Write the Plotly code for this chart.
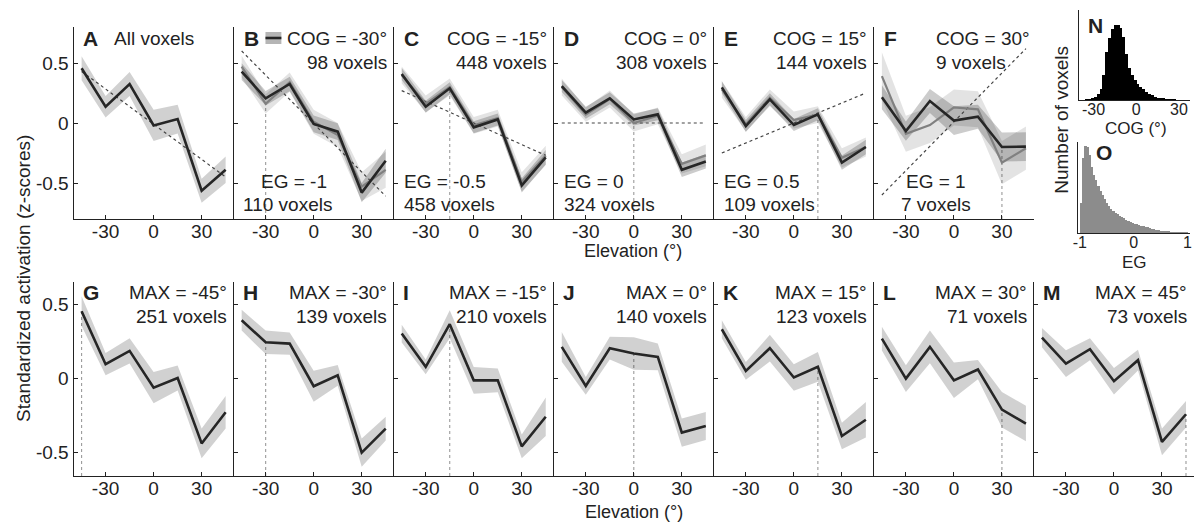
import plotly.graph_objects as go

# ---------------- data ----------------
elev = [-45, -30, -15, 0, 15, 30, 45]
elev_ticks = [-30, 0, 30]
elev_ticktext = ["-30", "0", "30"]
z_ticks = [-0.5, 0, 0.5]
z_ticktext = ["-0.5", "0", "0.5"]

# Panel A: all voxels
all_mean = [0.456, 0.136, 0.325, -0.02, 0.033, -0.564, -0.39]
all_err = [0.10, 0.09, 0.10, 0.13, 0.12, 0.10, 0.11]
all_fit = [0.43, -0.45]          # linear fit at -45 and 45

# Panels B-F: COG groups and EG groups
cog_vals = [-30, -15, 0, 15, 30]
cog_labels = ["COG = -30°", "COG = -15°", "COG = 0°", "COG = 15°", "COG = 30°"]
cog_counts = [98, 448, 308, 144, 9]
eg_vals = [-1, -0.5, 0, 0.5, 1]
eg_labels = ["EG = -1", "EG = -0.5", "EG = 0", "EG = 0.5", "EG = 1"]
eg_counts = [110, 458, 324, 109, 7]
cog_mean = [
    [0.428, 0.206, 0.325, -0.008, -0.072, -0.58, -0.314],
    [0.408, 0.136, 0.289, -0.036, 0.03, -0.52, -0.286],
    [0.308, 0.086, 0.206, 0.03, 0.072, -0.39, -0.32],
    [0.297, -0.025, 0.197, -0.017, 0.072, -0.33, -0.20],
    [0.214, -0.067, 0.183, 0.02, 0.053, -0.20, -0.197],
]
cog_err = [
    [0.07, 0.06, 0.06, 0.07, 0.07, 0.08, 0.10],
    [0.05, 0.05, 0.05, 0.05, 0.05, 0.06, 0.06],
    [0.05, 0.05, 0.05, 0.05, 0.05, 0.06, 0.06],
    [0.05, 0.05, 0.05, 0.05, 0.05, 0.06, 0.06],
    [0.10, 0.08, 0.10, 0.12, 0.10, 0.12, 0.12],
]
eg_mean = [
    [0.47, 0.16, 0.34, 0.01, -0.10, -0.53, -0.39],
    [0.40, 0.16, 0.30, -0.02, 0.04, -0.49, -0.27],
    [0.30, 0.07, 0.20, 0.00, 0.06, -0.34, -0.27],
    [0.28, -0.01, 0.21, 0.025, 0.07, -0.29, -0.20],
    [0.39, -0.09, -0.017, 0.13, 0.114, -0.33, -0.21],
]
eg_err = [
    [0.09, 0.08, 0.08, 0.10, 0.10, 0.12, 0.15],
    [0.07, 0.07, 0.07, 0.07, 0.07, 0.08, 0.08],
    [0.07, 0.06, 0.07, 0.07, 0.07, 0.08, 0.09],
    [0.07, 0.06, 0.07, 0.07, 0.07, 0.08, 0.08],
    [0.20, 0.15, 0.15, 0.15, 0.15, 0.18, 0.18],
]
eg_template = [[0.60, -0.61], [0.27, -0.27], [0.0, 0.0], [-0.25, 0.25], [-0.60, 0.62]]

# Panels G-M: MAX groups
max_vals = [-45, -30, -15, 0, 15, 30, 45]
max_labels = ["MAX = -45°", "MAX = -30°", "MAX = -15°", "MAX = 0°", "MAX = 15°", "MAX = 30°", "MAX = 45°"]
max_counts = [251, 139, 210, 140, 123, 71, 73]
max_mean = [
    [0.453, 0.095, 0.185, -0.063, 0.002, -0.44, -0.23],
    [0.392, 0.243, 0.234, -0.054, 0.02, -0.502, -0.34],
    [0.302, 0.077, 0.365, -0.014, -0.014, -0.46, -0.26],
    [0.212, -0.052, 0.203, 0.167, 0.144, -0.367, -0.322],
    [0.331, 0.05, 0.203, 0.005, 0.077, -0.39, -0.28],
    [0.268, -0.002, 0.212, -0.014, 0.059, -0.212, -0.306],
    [0.275, 0.099, 0.196, -0.02, 0.122, -0.43, -0.243],
]
max_err = [
    [0.10, 0.075, 0.085, 0.105, 0.085, 0.10, 0.11],
    [0.07, 0.08, 0.075, 0.105, 0.07, 0.095, 0.08],
    [0.06, 0.05, 0.095, 0.09, 0.08, 0.08, 0.13],
    [0.10, 0.06, 0.077, 0.11, 0.09, 0.095, 0.095],
    [0.06, 0.06, 0.09, 0.09, 0.10, 0.09, 0.12],
    [0.08, 0.09, 0.11, 0.12, 0.065, 0.12, 0.12],
    [0.065, 0.09, 0.075, 0.09, 0.07, 0.09, 0.09],
]

# Histogram N: COG distribution
cog_bins = [-35, -33, -31, -29, -27, -25, -23, -21, -19, -17, -15, -13, -11, -9, -7, -5, -3, -1,
            1, 3, 5, 7, 9, 11, 13, 15, 17, 19, 21, 23, 25, 27]
cog_hist = [3, 8, 15, 30, 60, 110, 250, 480, 620, 710, 750, 750, 720, 630, 460, 320, 250, 200,
            165, 135, 110, 85, 65, 50, 33, 25, 18, 11, 7, 5, 3, 2]
# Histogram O: EG distribution
eg_bins = [-0.98, -0.94, -0.90, -0.86, -0.82, -0.78, -0.74, -0.70, -0.66, -0.62, -0.58, -0.54,
           -0.50, -0.46, -0.42, -0.38, -0.34, -0.30, -0.26, -0.22, -0.18, -0.14, -0.10, -0.06,
           -0.02, 0.02, 0.06, 0.10, 0.14, 0.18, 0.22, 0.26, 0.30, 0.34, 0.38, 0.42, 0.46, 0.50,
           0.54, 0.58, 0.62, 0.66, 0.70, 0.74, 0.78, 0.82, 0.86, 0.90, 0.94, 0.98]
eg_hist = [300, 750, 870, 860, 780, 660, 580, 530, 470, 420, 380, 340, 300, 270, 240, 220, 200,
           185, 170, 155, 145, 130, 120, 110, 100, 92, 85, 78, 72, 66, 60, 55, 50, 44, 38, 32,
           27, 22, 18, 15, 12, 10, 8, 6, 5, 4, 3, 2, 1, 0.5]

# ---------------- styling / layout ----------------
FONT = "Liberation Sans, Arial, sans-serif"
W, H = 1196, 525
INK = "#222222"
DARK_LINE = "#262626"
GRAY_LINE = "#808080"
COG_BAND = "rgba(0,0,0,0.20)"
EG_BAND = "rgba(0,0,0,0.11)"
SINGLE_BAND = "rgba(0,0,0,0.18)"


def fx(x):
    return min(1.0, max(0.0, x / W))


def fy(y):
    return min(1.0, max(0.0, 1 - y / H))


fig = go.Figure()
layout = dict(
    width=W, height=H, margin=dict(l=0, r=0, t=0, b=0),
    paper_bgcolor="white", plot_bgcolor="white", showlegend=False,
    font=dict(family=FONT, color=INK, size=19), bargap=0,
    annotations=[], shapes=[],
)

PW = 161.0
TOP = (27, 219)
BOT = (282, 476)


def add_axes(n, xl, xr, yt, yb, xrange, yrange, xtv, xtt, ytv, ytt, showy, fs=19, yticks=True,
             xstandoff=-5):
    k = "" if n == 1 else str(n)
    layout["xaxis" + k] = dict(
        domain=[fx(xl), fx(xr)], anchor="y" + k, range=xrange, tickvals=xtv, ticktext=xtt,
        ticks="inside", ticklen=4, tickcolor=INK, showline=True, linecolor=INK, linewidth=1.3,
        showgrid=False, zeroline=False, tickfont=dict(size=fs, color=INK, family=FONT),
        ticklabelstandoff=xstandoff, fixedrange=True)
    layout["yaxis" + k] = dict(
        domain=[fy(yb), fy(yt)], anchor="x" + k, range=yrange, tickvals=ytv, ticktext=ytt,
        showticklabels=showy, ticks="inside" if yticks else "", ticklen=4, tickcolor=INK,
        showline=True, linecolor=INK, linewidth=1.3, showgrid=False, zeroline=False,
        tickfont=dict(size=fs, color=INK, family=FONT), fixedrange=True)
    return "x" + k, "y" + k


def band(xa, ya, mean, err, color):
    up = [m + e for m, e in zip(mean, err)]
    lo = [m - e for m, e in zip(mean, err)]
    fig.add_trace(go.Scatter(x=elev + elev[::-1], y=up + lo[::-1], fill="toself", fillcolor=color,
                             line=dict(width=0), mode="lines", hoverinfo="skip", xaxis=xa, yaxis=ya))


def line(xa, ya, mean, color, width):
    fig.add_trace(go.Scatter(x=elev, y=mean, mode="lines", line=dict(color=color, width=width),
                             xaxis=xa, yaxis=ya))


def dotted(xa, ya, xs, ys, color, width=1.2):
    fig.add_trace(go.Scatter(x=xs, y=ys, mode="lines", line=dict(color=color, width=width, dash="dot"),
                             xaxis=xa, yaxis=ya, hoverinfo="skip"))


def text(x, y, s, xanchor="left", size=19, bold=False):
    layout["annotations"].append(dict(
        x=fx(x), y=fy(y), xref="paper", yref="paper", text=("<b>%s</b>" % s) if bold else s,
        showarrow=False, xanchor=xanchor, yanchor="middle",
        font=dict(size=size, color=INK, family=FONT)))


TOP_RANGE = [-0.8, 0.8]
BOT_RANGE = [-0.66, 0.65]

# Panel A
xl = 69
xa, ya = add_axes(1, xl, xl + PW, TOP[0], TOP[1], [-50, 50], TOP_RANGE,
                  elev_ticks, elev_ticktext, z_ticks, z_ticktext, True)
band(xa, ya, all_mean, all_err, SINGLE_BAND)
dotted(xa, ya, [-45, 45], all_fit, "#444444")
line(xa, ya, all_mean, DARK_LINE, 2.6)
text(xl + 7, 38, "A", size=21, bold=True)
text(xl + 39, 38, "All voxels")

# Panels B-F
letters_top = ["B", "C", "D", "E", "F"]
for i in range(5):
    n = i + 2
    xl = 69 + (i + 1) * PW
    xa, ya = add_axes(n, xl, xl + PW, TOP[0], TOP[1], [-50, 50], TOP_RANGE,
                      elev_ticks, elev_ticktext, z_ticks, z_ticktext, False)
    ci = elev.index(cog_vals[i])
    dotted(xa, ya, [cog_vals[i], cog_vals[i]], [TOP_RANGE[0], cog_mean[i][ci]], "#9a9a9a", 1.1)
    band(xa, ya, eg_mean[i], eg_err[i], EG_BAND)
    band(xa, ya, cog_mean[i], cog_err[i], COG_BAND)
    dotted(xa, ya, [-45, 45], eg_template[i], "#444444")
    line(xa, ya, eg_mean[i], GRAY_LINE, 2.2)
    line(xa, ya, cog_mean[i], DARK_LINE, 2.6)
    text(xl + 8, 38, letters_top[i], size=21, bold=True)
    if i == 4:
        text(xl + 60, 38, cog_labels[i])
        text(xl + 60, 62, "%d voxels" % cog_counts[i])
        text(xl + 62, 181, eg_labels[i], xanchor="center")
        text(xl + 62, 204, "%d voxels" % eg_counts[i], xanchor="center")
    else:
        text(xl + PW - 5, 38, cog_labels[i], xanchor="right")
        text(xl + PW - 5, 62, "%d voxels" % cog_counts[i], xanchor="right")
        if i == 0:
            text(xl + 61, 181, eg_labels[i], xanchor="center")
            text(xl + 54, 204, "%d voxels" % eg_counts[i], xanchor="center")
        else:
            text(xl + 8, 181, eg_labels[i])
            text(xl + 8, 204, "%d voxels" % eg_counts[i])

# legend symbol in B
bx = 69 + PW
layout["shapes"].append(dict(type="rect", xref="paper", yref="paper", x0=fx(bx + 32), x1=fx(bx + 48),
                             y0=fy(44), y1=fy(32), fillcolor="#b5b5b5", line=dict(width=0)))
layout["shapes"].append(dict(type="line", xref="paper", yref="paper", x0=fx(bx + 32), x1=fx(bx + 48),
                             y0=fy(38), y1=fy(38), line=dict(color=DARK_LINE, width=2.6)))

# Panels G-M
letters_bot = ["G", "H", "I", "J", "K", "L", "M"]
for i in range(7):
    n = i + 7
    xl = 69 + i * PW
    xa, ya = add_axes(n, xl, xl + PW, BOT[0], BOT[1], [-50, 50], BOT_RANGE,
                      elev_ticks, elev_ticktext, z_ticks, z_ticktext, i == 0, xstandoff=-5)
    mi = elev.index(max_vals[i])
    dotted(xa, ya, [max_vals[i], max_vals[i]], [BOT_RANGE[0], max_mean[i][mi]], "#9a9a9a", 1.1)
    band(xa, ya, max_mean[i], max_err[i], SINGLE_BAND)
    line(xa, ya, max_mean[i], DARK_LINE, 2.6)
    text(xl + 7, 292, letters_bot[i], size=21, bold=True)
    text(xl + PW - 5, 292, max_labels[i], xanchor="right")
    text(xl + PW - 5, 316, "%d voxels" % max_counts[i], xanchor="right")

# Histogram N
xa, ya = add_axes(14, 1080, 1192, 10, 100, [-40.5, 37.8], [0, 900],
                  [-30, 0, 30], ["-30", "0", "30"], [], [], False, fs=16, yticks=False, xstandoff=-5)
layout["xaxis14"]["ticks"] = ""
fig.add_trace(go.Bar(x=cog_bins, y=cog_hist, width=2, marker=dict(color="black", line=dict(width=0)),
                     xaxis=xa, yaxis=ya))
text(1087, 25, "N", size=21, bold=True)
text(1138, 128, "COG (°)", xanchor="center", size=17)

# Histogram O
xa, ya = add_axes(15, 1079, 1192, 142, 233, [-1.04, 1.05], [0, 905],
                  [-1, 0, 1], ["-1", "0", "1"], [], [], False, fs=16, yticks=False, xstandoff=-5)
layout["xaxis15"]["ticks"] = ""
fig.add_trace(go.Bar(x=eg_bins, y=eg_hist, width=0.04, marker=dict(color="#8c8c8c", line=dict(width=0)),
                     xaxis=xa, yaxis=ya))
text(1095, 152, "O", size=21, bold=True)
text(1136, 262, "EG", xanchor="center", size=17)

# axis titles
text(632, 251, "Elevation (°)", xanchor="center", size=18)
text(633, 512, "Elevation (°)", xanchor="center", size=18)
layout["annotations"].append(dict(x=fx(18), y=fy(278), xref="paper", yref="paper",
                                  text="Standardized activation (z-scores)", textangle=-90,
                                  showarrow=False, xanchor="center", yanchor="middle",
                                  font=dict(size=19, color=INK, family=FONT)))
layout["annotations"].append(dict(x=fx(1063), y=fy(120), xref="paper", yref="paper",
                                  text="Number of voxels", textangle=-90,
                                  showarrow=False, xanchor="center", yanchor="middle",
                                  font=dict(size=19, color=INK, family=FONT)))

fig.update_layout(**layout)
fig.write_html("out.html")
